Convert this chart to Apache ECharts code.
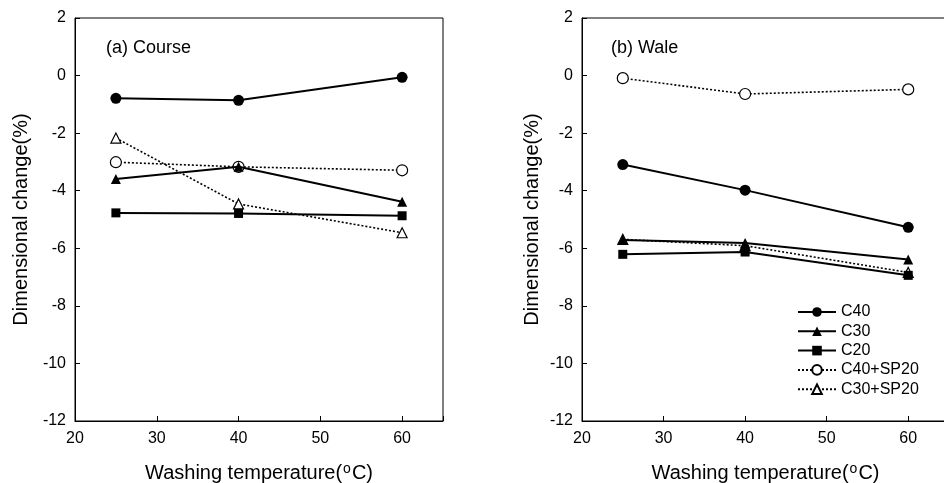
<!DOCTYPE html>
<html><head><meta charset="utf-8">
<script src="https://cdn.jsdelivr.net/npm/echarts@6/dist/echarts.min.js"></script>
<style>html,body{margin:0;padding:0;background:#fff}#c{width:944px;height:483px}</style>
</head><body><div id="c"></div>
<script>
const temps = [25, 40, 60];
const seriesNames = ['C40', 'C30', 'C20', 'C40+SP20', 'C30+SP20'];
// (a) Course
const courseC40 = [-0.79, -0.86, -0.06];
const courseC30 = [-3.59, -3.17, -4.38];
const courseC20 = [-4.77, -4.79, -4.87];
const courseC40SP20 = [-3.01, -3.17, -3.29];
const courseC30SP20 = [-2.17, -4.46, -5.46];
// (b) Wale
const waleC40 = [-3.09, -3.98, -5.27];
const waleC30 = [-5.71, -5.82, -6.39];
const waleC20 = [-6.21, -6.13, -6.94];
const waleC40SP20 = [-0.09, -0.64, -0.48];
const waleC30SP20 = [-5.69, -5.91, -6.84];
const yTicks = [-12, -10, -8, -6, -4, -2, 0, 2];
const xTicks = [20, 30, 40, 50, 60];

const FONT = '"Liberation Sans", Arial, sans-serif';
const styles = {
  'C40': {symbol: 'circle', size: 11, type: 'solid', fill: '#000'},
  'C30': {symbol: 'triangle', size: 10, type: 'solid', fill: '#000'},
  'C20': {symbol: 'rect', size: 9, type: 'solid', fill: '#000'},
  'C40+SP20': {symbol: 'circle', size: 11, type: [2, 2], fill: '#fff'},
  'C30+SP20': {symbol: 'triangle', size: 10, type: [2, 2], fill: '#fff'}
};
const courseData = [courseC40, courseC30, courseC20, courseC40SP20, courseC30SP20];
const waleData = [waleC40, waleC30, waleC20, waleC40SP20, waleC30SP20];

function mk(name, vals, idx) {
  const s = styles[name];
  const solid = s.type === 'solid';
  return {
    name: name, type: 'line', xAxisIndex: idx, yAxisIndex: idx,
    data: temps.map((t, i) => [t, vals[i]]),
    symbol: s.symbol, symbolSize: s.size,
    lineStyle: {color: '#000', width: solid ? 2 : 1.6, type: s.type},
    itemStyle: {color: s.fill, borderColor: '#000', borderWidth: solid ? 0 : 1.2},
    z: solid ? 3 : 2
  };
}
const series = [];
seriesNames.forEach((n, i) => series.push(mk(n, courseData[i], 0)));
seriesNames.forEach((n, i) => series.push(mk(n, waleData[i], 1)));

function xAx(idx) {
  return {
    type: 'value', gridIndex: idx, min: 20, max: 65, interval: 10,
    name: 'Washing temperature({sup|o}C)', nameLocation: 'middle', nameGap: 41,
    nameTextStyle: {fontFamily: FONT, fontSize: 20, color: '#000',
      rich: {sup: {fontFamily: FONT, fontSize: 14, color: '#000', verticalAlign: 'top', padding: [0, 1, 8, 1]}}},
    axisLine: {onZero: false, lineStyle: {color: '#000', width: 1}},
    axisTick: {inside: true, length: 5, lineStyle: {color: '#000'}},
    axisLabel: {fontFamily: FONT, fontSize: 16, color: '#000', margin: 10,
      formatter: v => xTicks.indexOf(v) >= 0 ? String(v) : ''},
    splitLine: {show: false}
  };
}
function yAx(idx) {
  return {
    type: 'value', gridIndex: idx, min: -12, max: 2, interval: 2,
    name: 'Dimensional change(%)', nameLocation: 'middle', nameGap: idx === 0 ? 44 : 40, nameRotate: 90,
    nameTextStyle: {fontFamily: FONT, fontSize: 20, color: '#000'},
    axisLine: {onZero: false, lineStyle: {color: '#000', width: 1}},
    axisTick: {inside: true, length: 5, lineStyle: {color: '#000'}},
    axisLabel: {fontFamily: FONT, fontSize: 16, color: '#000', margin: 9,
      formatter: v => yTicks.indexOf(v) >= 0 ? String(v) : ''},
    splitLine: {show: false}
  };
}

const chart = echarts.init(document.getElementById('c'), null, {renderer: 'canvas'});
chart.setOption({
  animation: false,
  backgroundColor: '#fff',
  title: [
    {text: '(a) Course', left: 101, top: 34, textStyle: {fontFamily: FONT, fontSize: 18, fontWeight: 'normal', color: '#000'}},
    {text: '(b) Wale', left: 606, top: 34, textStyle: {fontFamily: FONT, fontSize: 18, fontWeight: 'normal', color: '#000'}}
  ],
  grid: [
    {left: 75, top: 18, width: 368, height: 403, outerBoundsMode: 'none', containLabel: false, show: true, borderColor: '#000', borderWidth: 1, backgroundColor: 'transparent'},
    {left: 582, top: 18, width: 367, height: 403, outerBoundsMode: 'none', containLabel: false, show: true, borderColor: '#000', borderWidth: 1, backgroundColor: 'transparent'}
  ],
  xAxis: [xAx(0), xAx(1)],
  yAxis: [yAx(0), yAx(1)],
  legend: {
    data: seriesNames, orient: 'vertical', left: 792, top: 299,
    itemWidth: 38, itemHeight: 12, itemGap: 3.3,
    textStyle: {fontFamily: FONT, fontSize: 16, color: '#000', lineHeight: 16}
  },
  series: series
});
</script>
</body></html>
